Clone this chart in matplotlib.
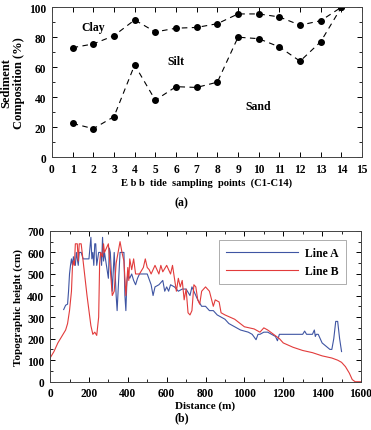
import matplotlib
matplotlib.use("Agg")
import matplotlib.pyplot as plt
from matplotlib.ticker import MultipleLocator

plt.rcParams['font.family'] = ['Liberation Serif', 'DejaVu Serif']
plt.rcParams['font.weight'] = 'bold'
plt.rcParams['axes.labelweight'] = 'bold'

# (a) sediment composition at ebb tide sampling points
points = [1, 2, 3, 4, 5, 6, 7, 8, 9, 10, 11, 12, 13, 14]
clay_silt = [73, 75.5, 81, 91.5, 83.5, 86, 86.5, 89, 95.5, 95.5, 93.5, 88, 91, 100]
silt_sand = [22.5, 19, 27, 61.5, 38, 47, 46.5, 50, 80, 79, 73.5, 64, 77, 100]

# (b) topographic profiles
dist_a = [70, 80, 90, 95, 100, 105, 110, 115, 120, 125, 130, 135, 140, 145, 150, 160, 170, 180,
          190, 200, 210, 215, 220, 225, 230, 235, 240, 250, 260, 265, 270, 275, 280, 290, 300,
          305, 310, 320, 330, 340, 345, 350, 360, 370, 380, 385, 390, 395, 400, 410, 420, 430,
          440, 450, 460, 470, 480, 500, 520, 530, 540, 560, 580, 590, 600, 610, 620, 640, 660,
          680, 700, 720, 730, 740, 760, 780, 800, 820, 840, 860, 880, 900, 920, 940, 960, 980,
          1000, 1020, 1040, 1060, 1070, 1080, 1100, 1120, 1140, 1160, 1170, 1180, 1200, 1250,
          1300, 1310, 1320, 1350, 1360, 1365, 1370, 1380, 1400, 1420, 1440, 1450, 1460, 1470,
          1480, 1490, 1500]
height_a = [335, 355, 360, 420, 500, 540, 570, 540, 580, 560, 540, 600, 570, 540, 600, 600, 570, 570,
            570, 570, 670, 570, 600, 540, 640, 640, 540, 600, 600, 540, 670, 560, 600, 540, 480,
            620, 600, 420, 600, 400, 330, 420, 600, 600, 600, 400, 330, 460, 500, 480, 500, 470,
            450, 480, 500, 500, 500, 500, 450, 400, 440, 450, 470, 420, 440, 420, 450, 440, 420,
            430, 430, 400, 440, 420, 380, 350, 350, 330, 330, 310, 300, 290, 270, 260, 250, 240,
            235, 230, 220, 195, 220, 220, 230, 230, 220, 210, 190, 220, 220, 220,
            220, 235, 220, 220, 240, 210, 220, 220, 180, 165, 150, 150, 200, 280,
            280, 200, 140]

dist_b = [0, 20, 40, 60, 80, 90, 100, 110, 115, 120, 125, 130, 140, 145, 150, 160, 165, 170, 180,
          190, 200, 210, 220, 230, 240, 250, 255, 260, 270, 275, 280, 290, 300, 305, 310, 320,
          330, 340, 350, 360, 370, 380, 390, 400, 405, 410, 420, 430, 440, 460, 480, 490, 500,
          510, 520, 540, 560, 570, 580, 600, 620, 630, 640, 650, 660, 670, 680, 690, 700, 710,
          720, 730, 740, 750, 760, 770, 780, 800, 820, 840, 850, 870, 880, 900, 950, 1000, 1050,
          1080, 1100, 1120, 1150, 1180, 1200, 1250, 1300, 1350, 1400, 1450, 1480, 1500, 1520,
          1540, 1555, 1570, 1600]
height_b = [110, 140, 180, 210, 240, 270, 330, 420, 530, 560, 540, 640, 640, 560, 640, 640, 600, 560, 480,
            400, 330, 260, 220, 230, 215, 300, 550, 600, 580, 640, 600, 620, 640, 580, 520, 400,
            420, 550, 600, 650, 600, 560, 400, 530, 470, 570, 520, 570, 500, 500, 530, 570, 530,
            520, 500, 540, 500, 540, 510, 540, 500, 540, 480, 420, 480, 440, 470, 380, 430, 320,
            310, 330, 450, 440, 380, 360, 420, 440, 420, 350, 380, 370, 320, 310, 290, 255, 245,
            230, 250, 240, 220, 200, 180, 160, 145, 135, 120, 110, 100, 90, 70,
            40, 10, 0, 0]

fig = plt.figure(figsize=(3.71, 4.31), dpi=100)
fs = 8
tfs = 8.3


def style_axes(ax):
    ax.tick_params(which='both', direction='in', top=True, right=True, labelsize=tfs, pad=4)
    ax.tick_params(which='major', length=3.5, width=0.7)
    ax.tick_params(which='minor', length=2, width=0.6)
    for lab in ax.get_xticklabels() + ax.get_yticklabels():
        lab.set_fontweight('bold')
    for sp in ax.spines.values():
        sp.set_linewidth(0.7)
        sp.set_color('#444444')


# --- panel (a)
ax1 = fig.add_axes([0.140, 0.633, 0.836, 0.348])
ax1.plot(points, clay_silt, color='black', ls=(0, (5, 4)), lw=0.8, marker='o', ms=4)
ax1.plot(points, silt_sand, color='black', ls=(0, (5, 4)), lw=0.8, marker='o', ms=4)
ax1.set_xlim(0, 15)
ax1.set_ylim(0, 100)
ax1.xaxis.set_major_locator(MultipleLocator(1))
ax1.yaxis.set_major_locator(MultipleLocator(20))
ax1.yaxis.set_minor_locator(MultipleLocator(10))
style_axes(ax1)
ax1.text(2, 87, 'Clay', fontsize=8.5, ha='center', va='center', fontweight='bold')
ax1.text(6, 64, 'Silt', fontsize=8.5, ha='center', va='center', fontweight='bold')
ax1.text(10, 34, 'Sand', fontsize=8.5, ha='center', va='center', fontweight='bold')
ax1.set_xlabel('E b b  tide  sampling  points  (C1-C14)', fontsize=7.6, labelpad=2, fontweight='bold')
ax1.set_ylabel('Sediment\nComposition (%)', fontsize=9, labelpad=3, fontweight='bold',
               linespacing=1.1)
fig.text(0.49, 0.528, '(a)', fontsize=8.5, ha='center', va='center', fontweight='bold')

# --- panel (b)
ax2 = fig.add_axes([0.135, 0.112, 0.838, 0.350])
ax2.plot(dist_a, height_a, color='#3f55a3', lw=0.8, label='Line A')
ax2.plot(dist_b, height_b, color='#e23b3b', lw=0.8, label='Line B')
ax2.set_xlim(0, 1600)
ax2.set_ylim(0, 700)
ax2.xaxis.set_major_locator(MultipleLocator(200))
ax2.xaxis.set_minor_locator(MultipleLocator(100))
ax2.yaxis.set_major_locator(MultipleLocator(100))
ax2.yaxis.set_minor_locator(MultipleLocator(50))
style_axes(ax2)
ax2.set_xlabel('Distance (m)', fontsize=fs, labelpad=1, fontweight='bold')
ax2.set_ylabel('Topographic height (cm)', fontsize=fs, labelpad=3, fontweight='bold')
leg = ax2.legend(loc='upper right', bbox_to_anchor=(0.952, 0.94), frameon=True,
                 prop={'size': 8.5, 'weight': 'bold'}, fancybox=False, edgecolor='#888888',
                 handlelength=6.1, handletextpad=0.6, borderpad=0.6, labelspacing=0.5,
                 borderaxespad=0)
leg.get_frame().set_linewidth(0.6)
fig.text(0.49, 0.03, '(b)', fontsize=8.5, ha='center', va='center', fontweight='bold')

fig.savefig('out.png', dpi=100)
